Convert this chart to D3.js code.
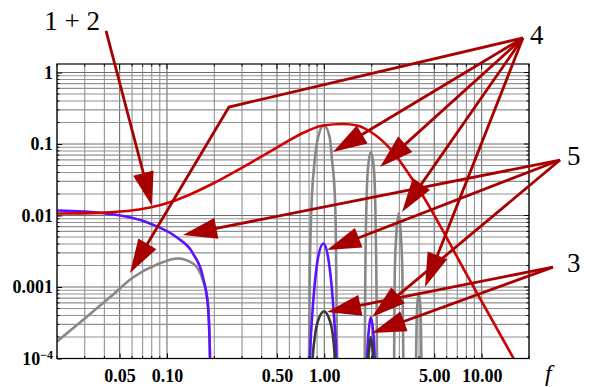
<!DOCTYPE html>
<html>
<head>
<meta charset="utf-8">
<script src="https://d3js.org/d3.v7.min.js"></script>
<style>
  body { margin: 0; background: #fff; }
  text { font-family: "Liberation Serif", "DejaVu Serif", serif; }
</style>
</head>
<body>
<script>
// ---- values (frequency f, magnitude) ----

// curve 1+2 (red)
const redF = [0.02, 0.0375, 0.078, 0.1077, 0.140, 0.196, 0.291, 0.50, 0.70, 0.982, 1.316, 1.615, 1.954, 2.618, 3.887, 8.44, 15.85, 17.5];
const redV = [0.01067, 0.0109, 0.0129, 0.0157, 0.0197, 0.028, 0.045, 0.0893, 0.136, 0.1815, 0.1905, 0.1815, 0.1496, 0.0865, 0.0255, 0.00123, 1.03e-4, 7e-5];

// low-frequency part, blue and gray
const blueLowF = [0.02, 0.02925, 0.0375, 0.078, 0.1158, 0.1464, 0.1695, 0.1824, 0.1878, 0.189];
const blueLowV = [0.01175, 0.01138, 0.0109, 0.00773, 0.00492, 0.00294, 0.00136, 5.17e-4, 1e-4, 5e-5];
const grayLowF = [0.02, 0.02925, 0.0434, 0.0608, 0.0864, 0.117, 0.1464, 0.1695, 0.1824, 0.1878, 0.189];
const grayLowV = [1.73e-4, 3.45e-4, 7.2e-4, 0.00136, 0.00206, 0.0025, 0.00213, 0.00123, 5.9e-4, 1e-4, 5e-5];

// resonance arches [f, value]
const grayArch1 = [[0.796, 5e-5], [0.800, 1e-4], [0.808, 0.00136], [0.820, 0.0068], [0.836, 0.0203], [0.869, 0.0588], [0.912, 0.123], [0.993, 0.1815], [1.083, 0.123], [1.120, 0.0588], [1.165, 0.0203], [1.182, 0.0068], [1.192, 0.00136], [1.205, 1e-4], [1.21, 5e-5]];
const grayArch2 = [[1.80, 5e-5], [1.808, 1e-4], [1.823, 0.00155], [1.851, 0.0129], [1.897, 0.047], [1.974, 0.0768], [2.062, 0.047], [2.111, 0.0129], [2.142, 0.00155], [2.163, 1e-4], [2.17, 5e-5]];
const grayArch3 = [[2.77, 5e-5], [2.778, 1e-4], [2.804, 0.00155], [2.871, 0.0056], [2.973, 0.01067], [3.062, 0.0056], [3.135, 0.00155], [3.179, 1e-4], [3.19, 5e-5]];
const grayArch4 = [[3.82, 5e-5], [3.833, 1e-4], [3.888, 5.17e-4], [3.986, 8.1e-4], [4.080, 5.17e-4], [4.138, 1e-4], [4.15, 5e-5]];
const blueArch1 = [[0.808, 5e-5], [0.812, 1e-4], [0.836, 3.74e-4], [0.870, 0.00112], [0.913, 0.00259], [0.988, 0.00406], [1.057, 0.00259], [1.109, 0.00112], [1.153, 3.74e-4], [1.193, 1e-4], [1.197, 5e-5]];
const blueArch2 = [[1.862, 5e-5], [1.872, 1e-4], [1.917, 2.46e-4], [1.974, 3.78e-4], [2.041, 2.46e-4], [2.091, 1e-4], [2.10, 5e-5]];
const darkArch1 = [[0.838, 5e-5], [0.844, 1e-4], [0.870, 1.97e-4], [0.913, 3.4e-4], [0.996, 4.54e-4], [1.083, 3.4e-4], [1.137, 1.97e-4], [1.165, 1e-4], [1.172, 5e-5]];
const darkArch2 = [[1.898, 5e-5], [1.906, 1e-4], [1.933, 1.44e-4], [1.974, 1.99e-4], [2.021, 1.44e-4], [2.049, 1e-4], [2.056, 5e-5]];

// tick labels
const xTickVals = [0.05, 0.1, 0.5, 1, 5, 10];
const xTickText = ["0.05", "0.10", "0.50", "1.00", "5.00", "10.00"];
const yTickVals = [1, 0.1, 0.01, 0.001, 1e-4];
const yTickText = ["1", "0.1", "0.01", "0.001", "10"];

// annotation labels, their arrow start point and the arrow targets (data coords)
const noteText = ["1 + 2", "4", "5", "3"];
const noteStart = [[0.041, 3.81], [18.3, 3.04], [31.5, 0.0597], [28.4, 0.0019]];
const noteArrows = [
  [[[0.0803, 0.01358]]],
  [[[0.2478, 0.329], [0.0582, 0.00157]], [[1.136, 0.0773]], [[2.26, 0.0477]], [[3.118, 0.0112]], [[4.365, 0.001]]],
  [[[0.1264, 0.00534]], [[1.04, 0.00329]], [[2.01, 3.8e-4]]],
  [[[1.04, 4.47e-4]], [[2.01, 2.27e-4]]]
];

// ---- layout ----
var margin = {top: 64, right: 63, bottom: 28.5, left: 57},
    width = 592 - margin.left - margin.right,
    height = 387 - margin.top - margin.bottom;

var svg = d3.select("body").append("svg")
    .attr("width", 592)
    .attr("height", 387)
  .append("g")
    .attr("transform", "translate(" + margin.left + "," + margin.top + ")");

var x = d3.scaleLog().domain([0.02, 20]).range([0, width]);
var y = d3.scaleLog().domain([1e-4, 1.315]).range([height, 0]);

svg.append("clipPath").attr("id", "plot")
  .append("rect").attr("width", width).attr("height", height);

// grid
var isMajorX = v => xTickVals.some(t => Math.abs(t / v - 1) < 1e-6);
var isMajorY = v => yTickVals.some(t => Math.abs(t / v - 1) < 1e-6);

svg.append("g").selectAll("line").data(x.ticks())
  .enter().append("line")
    .attr("x1", d => x(d)).attr("x2", d => x(d))
    .attr("y1", 0).attr("y2", height)
    .attr("stroke", d => isMajorX(d) ? "#6e6e6e" : "#929292")
    .attr("stroke-width", 1.1);

svg.append("g").selectAll("line").data(y.ticks())
  .enter().append("line")
    .attr("y1", d => y(d)).attr("y2", d => y(d))
    .attr("x1", 0).attr("x2", width)
    .attr("stroke", d => isMajorY(d) ? "#6e6e6e" : "#929292")
    .attr("stroke-width", 1.1);

// curves
var plot = svg.append("g").attr("clip-path", "url(#plot)");
var line = d3.line()
    .x(d => x(d[0]))
    .y(d => y(d[1]))
    .curve(d3.curveMonotoneX);

function draw(pts, color, w) {
  plot.append("path")
    .datum(pts)
    .attr("d", line)
    .attr("fill", "none")
    .attr("stroke", color)
    .attr("stroke-width", w)
    .attr("stroke-linejoin", "round");
}

var gray = "#878787", blue = "#5a12ff", dark = "#383838", red = "#d20000";

draw(d3.zip(grayLowF, grayLowV), gray, 2.6);
draw(d3.zip(blueLowF, blueLowV), blue, 2.6);
[grayArch1, grayArch2, grayArch3, grayArch4].forEach(a => draw(a, gray, 2.6));
[blueArch1, blueArch2].forEach(a => draw(a, blue, 2.6));
[darkArch1, darkArch2].forEach(a => draw(a, dark, 2.6));
draw(d3.zip(redF, redV), red, 2.6);

// frame
svg.append("rect")
  .attr("width", width).attr("height", height)
  .attr("fill", "none").attr("stroke", "#000").attr("stroke-width", 1.2);

// minor ticks on all sides
var minorX = x.ticks().filter(d => !isMajorX(d));
var minorY = y.ticks().filter(d => !isMajorY(d));
var ticks = svg.append("g").attr("stroke", "#000").attr("stroke-width", 1);
minorX.forEach(d => {
  ticks.append("line").attr("x1", x(d)).attr("x2", x(d)).attr("y1", height).attr("y2", height - 2.5);
  ticks.append("line").attr("x1", x(d)).attr("x2", x(d)).attr("y1", 0).attr("y2", 2.5);
});
minorY.forEach(d => {
  ticks.append("line").attr("y1", y(d)).attr("y2", y(d)).attr("x1", 0).attr("x2", 2.5);
  ticks.append("line").attr("y1", y(d)).attr("y2", y(d)).attr("x1", width).attr("x2", width - 2.5);
});
xTickVals.forEach(d => {
  ticks.append("line").attr("x1", x(d)).attr("x2", x(d)).attr("y1", 0).attr("y2", 5);
});
yTickVals.forEach(d => {
  ticks.append("line").attr("y1", y(d)).attr("y2", y(d)).attr("x1", width).attr("x2", width - 5);
});

// axes
var xAxis = svg.append("g")
  .attr("transform", "translate(0," + height + ")")
  .call(d3.axisBottom(x).tickValues(xTickVals)
    .tickFormat((d, i) => xTickText[i]).tickSize(-5).tickPadding(11));
var yAxis = svg.append("g")
  .call(d3.axisLeft(y).tickValues(yTickVals)
    .tickFormat((d, i) => yTickText[i]).tickSize(-5).tickPadding(4));

[xAxis, yAxis].forEach(a => {
  a.select(".domain").remove();
  a.selectAll("line").attr("stroke", "#000");
  a.selectAll("text")
    .attr("fill", "#000")
    .style("font-family", '"Liberation Serif", serif')
    .style("font-weight", "bold")
    .style("font-size", "18px");
});

// 10^-4 label
yAxis.selectAll("text").filter(d => d === 1e-4)
  .append("tspan")
    .attr("dy", "-0.45em")
    .style("font-size", "12px")
    .text("\u22124");

// axis title
svg.append("text")
  .attr("x", 488).attr("y", 317)
  .style("font-style", "italic")
  .style("font-size", "24px")
  .text("f");

// annotations
var arrowColor = "#a80000";
var headLen = 34, headHalf = 10.5;
var notes = svg.append("g");

function arrow(start, pts) {
  var p = [start].concat(pts).map(d => [x(d[0]), y(d[1])]);
  var n = p.length, tip = p[n - 1], prev = p[n - 2];
  var dx = tip[0] - prev[0], dy = tip[1] - prev[1];
  var len = Math.hypot(dx, dy), ux = dx / len, uy = dy / len;
  var base = [tip[0] - headLen * ux, tip[1] - headLen * uy];
  var stop = [tip[0] - (headLen - 4) * ux, tip[1] - (headLen - 4) * uy];
  notes.append("path")
    .attr("d", d3.line()(p.slice(0, n - 1).concat([stop])))
    .attr("fill", "none")
    .attr("stroke", arrowColor)
    .attr("stroke-width", 2.8)
    .attr("stroke-linejoin", "miter");
  notes.append("path")
    .attr("d", d3.line()([
      tip,
      [base[0] - headHalf * uy, base[1] + headHalf * ux],
      [base[0] + headHalf * uy, base[1] - headHalf * ux]
    ]) + "Z")
    .attr("fill", arrowColor);
}

noteArrows.forEach((list, i) => list.forEach(pts => arrow(noteStart[i], pts)));

var noteOffset = [[-6, -1, "end"], [7, 6, "start"], [7, 5, "start"], [14, 5, "start"]];
noteText.forEach((t, i) => {
  notes.append("text")
    .attr("x", x(noteStart[i][0]) + noteOffset[i][0])
    .attr("y", y(noteStart[i][1]) + noteOffset[i][1])
    .attr("text-anchor", noteOffset[i][2])
    .style("font-size", "27px")
    .text(t);
});
</script>
</body>
</html>
